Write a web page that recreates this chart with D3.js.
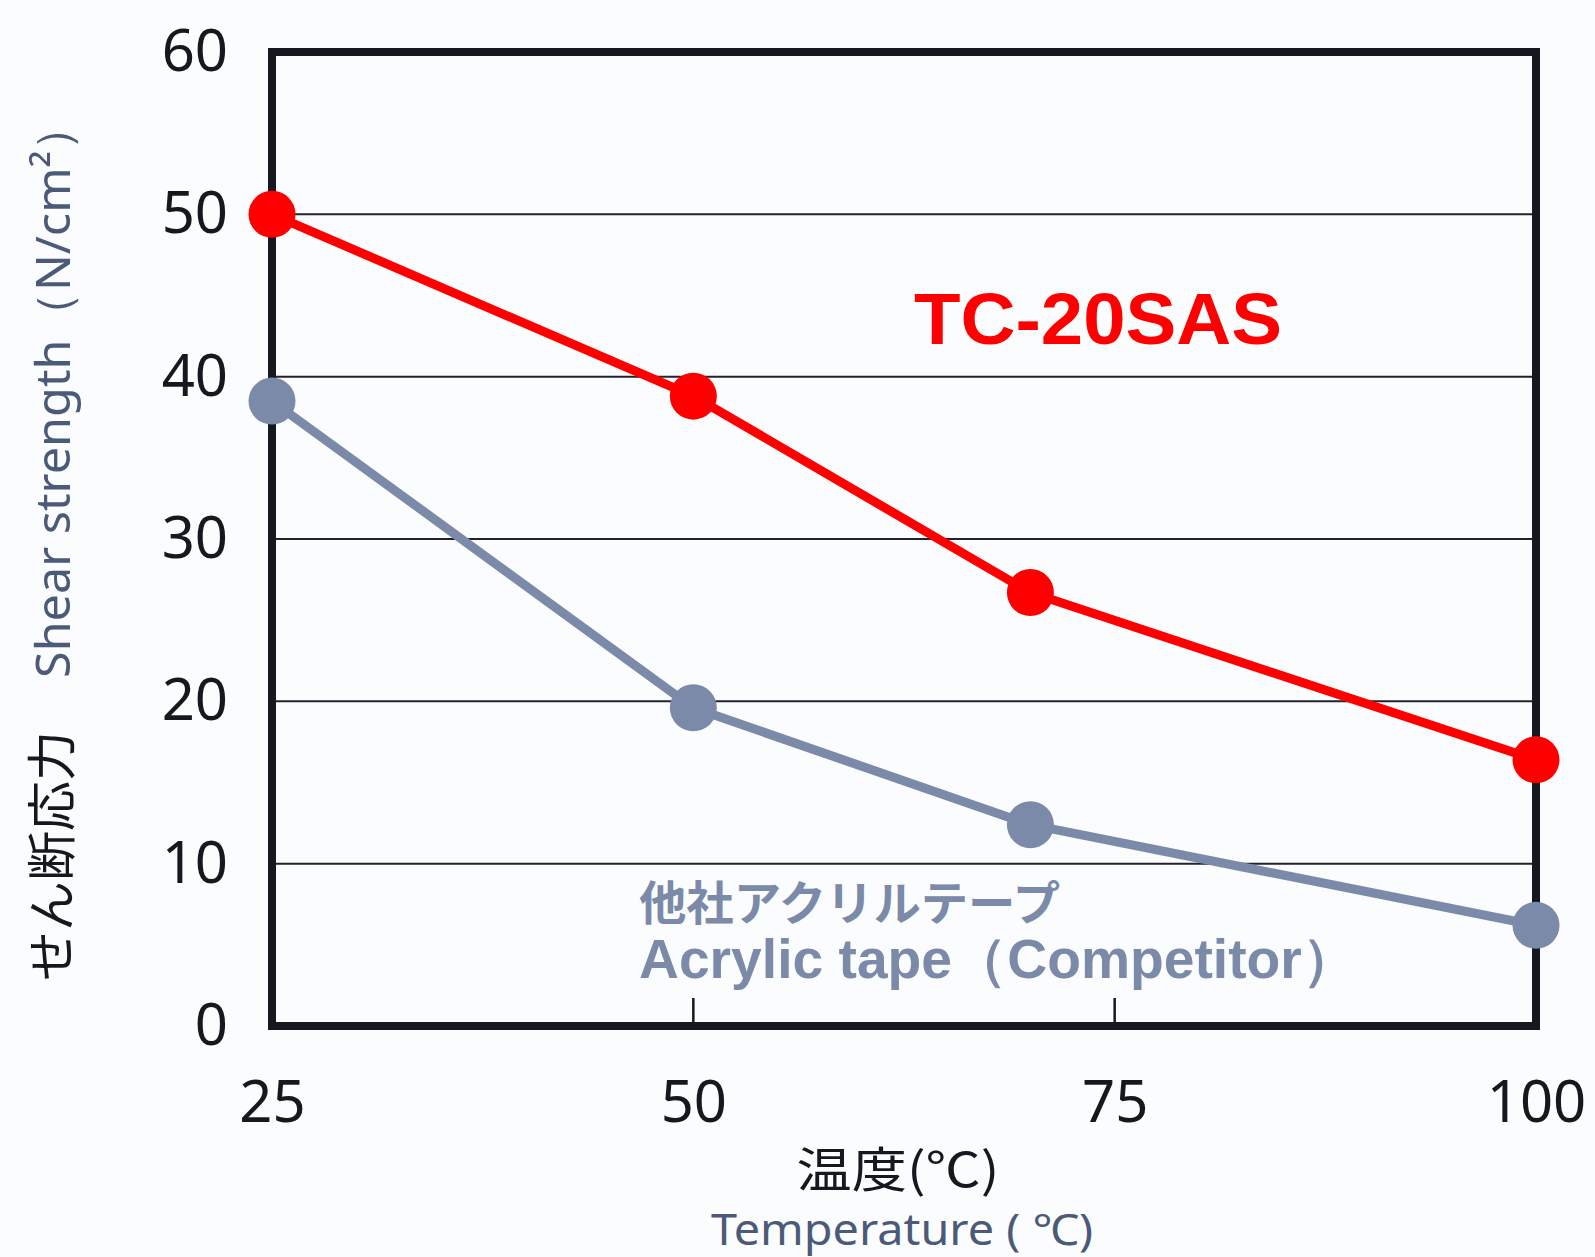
<!DOCTYPE html>
<html lang="ja">
<head>
<meta charset="UTF-8">
<title>Shear strength vs temperature</title>
<script src="https://cdn.jsdelivr.net/npm/d3@7"></script>
<style>
  html, body { margin: 0; padding: 0; background: #fbfcfd; }
  svg { display: block; }
</style>
</head>
<body>
<svg id="chart" width="1595" height="1257"></svg>
<script>
// data
const temps = [25, 50, 70, 100];
const tc20sas = [50, 38.8, 26.7, 16.4];
const competitor = [38.5, 19.6, 12.4, 6.2];
const xTicks = [25, 50, 75, 100];
const yTicks = [0, 10, 20, 30, 40, 50, 60];

const svg = d3.select("#chart");
const ink = "#17171f";
const red = "#fe0000";
const grey = "#7a8aa8";
const slate = "#4b5a78";
const numFont = "'Noto Sans', 'DejaVu Sans', sans-serif";
const jpFont = "'Noto Sans CJK JP', 'Noto Sans', sans-serif";

const x = d3.scaleLinear().domain([25, 100]).range([272, 1536]);
const y = d3.scaleLinear().domain([0, 60]).range([1026, 52]);

// gridlines
svg.append("g")
  .selectAll("line")
  .data(yTicks.filter(v => v > 0 && v < 60))
  .join("line")
  .attr("x1", x(25)).attr("x2", x(100))
  .attr("y1", d => y(d)).attr("y2", d => y(d))
  .attr("stroke", "#22222e")
  .attr("stroke-width", 2);

// inner tick marks on the bottom edge
svg.append("g")
  .selectAll("line")
  .data(xTicks.filter(v => v > 25 && v < 100))
  .join("line")
  .attr("x1", d => x(d)).attr("x2", d => x(d))
  .attr("y1", y(0)).attr("y2", y(0) - 28)
  .attr("stroke", ink)
  .attr("stroke-width", 2.5);

// frame
svg.append("rect")
  .attr("x", x(25)).attr("y", y(60))
  .attr("width", x(100) - x(25))
  .attr("height", y(0) - y(60))
  .attr("fill", "none")
  .attr("stroke", ink)
  .attr("stroke-width", 8);

// y tick labels
const yAxis = svg.append("g")
  .attr("transform", "translate(228,0)")
  .call(d3.axisLeft(y).tickValues(yTicks).tickSize(0).tickPadding(0));
yAxis.select(".domain").remove();
yAxis.selectAll("text")
  .attr("font-family", numFont)
  .attr("font-size", 58)
  .attr("fill", ink);

// x tick labels
const xAxis = svg.append("g")
  .attr("transform", "translate(0,1081)")
  .call(d3.axisBottom(x).tickValues(xTicks).tickSize(0).tickPadding(0));
xAxis.select(".domain").remove();
xAxis.selectAll("text")
  .attr("font-family", numFont)
  .attr("font-size", 58)
  .attr("fill", ink);

// series
const series = [
  { name: "competitor", values: competitor, color: grey },
  { name: "tc20sas", values: tc20sas, color: red }
];

const line = d3.line()
  .x((d, i) => x(temps[i]))
  .y(d => y(d));

series.forEach(s => {
  svg.append("path")
    .datum(s.values)
    .attr("fill", "none")
    .attr("stroke", s.color)
    .attr("stroke-width", 9)
    .attr("stroke-linejoin", "round")
    .attr("d", line);
  svg.append("g")
    .selectAll("circle")
    .data(s.values)
    .join("circle")
    .attr("cx", (d, i) => x(temps[i]))
    .attr("cy", d => y(d))
    .attr("r", 23.5)
    .attr("fill", s.color);
});

// series labels
svg.append("text")
  .attr("x", 914).attr("y", 344)
  .attr("font-family", "'Liberation Sans', Arial, sans-serif")
  .attr("font-weight", "bold")
  .attr("font-size", 72)
  .attr("textLength", 368)
  .attr("lengthAdjust", "spacingAndGlyphs")
  .attr("fill", red)
  .text("TC-20SAS");

svg.append("text")
  .attr("x", 639).attr("y", 920)
  .attr("font-family", jpFont)
  .attr("font-weight", "bold")
  .attr("font-size", 47)
  .attr("textLength", 421)
  .attr("lengthAdjust", "spacingAndGlyphs")
  .attr("fill", grey)
  .text("他社アクリルテープ");

svg.append("text")
  .attr("x", 639).attr("y", 978)
  .attr("font-family", "'Liberation Sans', Arial, sans-serif")
  .attr("font-weight", "bold")
  .attr("font-size", 55)
  .attr("textLength", 718)
  .attr("lengthAdjust", "spacingAndGlyphs")
  .attr("fill", grey)
  .text("Acrylic tape（Competitor）");

// axis titles
svg.append("text")
  .attr("x", 898).attr("y", 1187)
  .attr("text-anchor", "middle")
  .attr("font-family", jpFont)
  .attr("font-size", 48)
  .attr("textLength", 203)
  .attr("lengthAdjust", "spacingAndGlyphs")
  .attr("fill", ink)
  .text("温度(℃)");

svg.append("text")
  .attr("x", 902).attr("y", 1245)
  .attr("text-anchor", "middle")
  .attr("font-family", numFont)
  .attr("font-size", 43)
  .attr("textLength", 382)
  .attr("lengthAdjust", "spacingAndGlyphs")
  .attr("fill", slate)
  .text("Temperature ( ℃)");

svg.append("text")
  .attr("transform", "translate(70,390) rotate(-90)")
  .attr("text-anchor", "middle")
  .attr("font-family", numFont)
  .attr("font-size", 48)
  .attr("textLength", 576)
  .attr("lengthAdjust", "spacingAndGlyphs")
  .attr("fill", slate)
  .text("Shear strength（N/cm²）");

svg.append("text")
  .attr("transform", "translate(70,856) rotate(-90)")
  .attr("text-anchor", "middle")
  .attr("font-family", jpFont)
  .attr("font-size", 50)
  .attr("fill", ink)
  .text("せん断応力");
</script>
</body>
</html>
